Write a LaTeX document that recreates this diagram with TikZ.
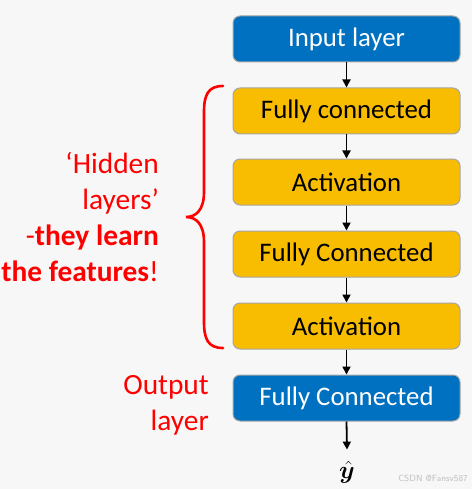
\documentclass[tikz,border=0pt]{standalone}
\usepackage{fontspec}
\setmainfont{Carlito}
\usepackage{amsmath,bm}
\usetikzlibrary{arrows.meta}
\definecolor{bgc}{HTML}{F7F7F7}
\definecolor{boxblue}{HTML}{0070C0}
\definecolor{boxyellow}{HTML}{F8BC00}
\definecolor{boxedge}{HTML}{A6A6A6}
\definecolor{redtxt}{HTML}{FF0000}
\tikzset{
  layerbox/.style={draw=boxedge, line width=1pt, rounded corners=7pt,
    minimum width=227pt, minimum height=46pt, inner sep=0pt,
    font=\fontsize{26.8}{30}\selectfont},
  bluebox/.style={layerbox, fill=boxblue, text=white},
  yellowbox/.style={layerbox, fill=boxyellow, text=black},
  flow/.style={-{Triangle[length=8pt,width=8pt]}, line width=1.8pt, black},
  redlabel/.style={text=redtxt, align=right, inner sep=0pt,
    font=\fontsize{29.4}{36}\selectfont},
}
\begin{document}
\begin{tikzpicture}[x=1pt,y=-1pt]
\fill[bgc] (0,0) rectangle (472,489);
\useasboundingbox (0,0) rectangle (472,489);
\node[bluebox]   (in)  at (346.5,39)  {Input layer};
\node[yellowbox] (fc1) at (346.5,111) {Fully connected};
\node[yellowbox] (ac1) at (346.5,182) {Activation};
\node[yellowbox] (fc2) at (346.5,254) {Fully Connected};
\node[yellowbox] (ac2) at (346.5,326) {Activation};
\node[bluebox]   (out) at (346.5,398) {Fully Connected};
\node[inner sep=0pt, font=\fontsize{28}{30}\selectfont] (yh) at (347,472) {$\bm{\hat{y}}$};
\draw[flow] (in)  -- (fc1);
\draw[flow] (fc1) -- (ac1);
\draw[flow] (ac1) -- (fc2);
\draw[flow] (fc2) -- (ac2);
\draw[flow] (ac2) -- (out);
\draw[flow] (out.south) -- ([yshift=11pt]yh.north);
\node[redlabel, anchor=east] (hid) at (159,217) {‘Hidden\\layers’\\-\textbf{they learn}\\\textbf{the features}!};
\node[redlabel, anchor=east] (outl) at (209,405) {Output\\layer};
\draw[redtxt, line width=2.6pt, line cap=round]
  (223,86) .. controls (208,86) and (204,95) .. (204,112)
  -- (204,192) .. controls (204,210) and (196,217) .. (186,217)
  .. controls (196,217) and (204,224) .. (204,242)
  -- (204,322) .. controls (204,339) and (208,348) .. (223,348);
\node[text=black!25, font=\fontsize{9}{10}\selectfont\sffamily, anchor=east, inner sep=0pt] (wm) at (468,478) {CSDN @Fansv587};
\end{tikzpicture}
\end{document}
